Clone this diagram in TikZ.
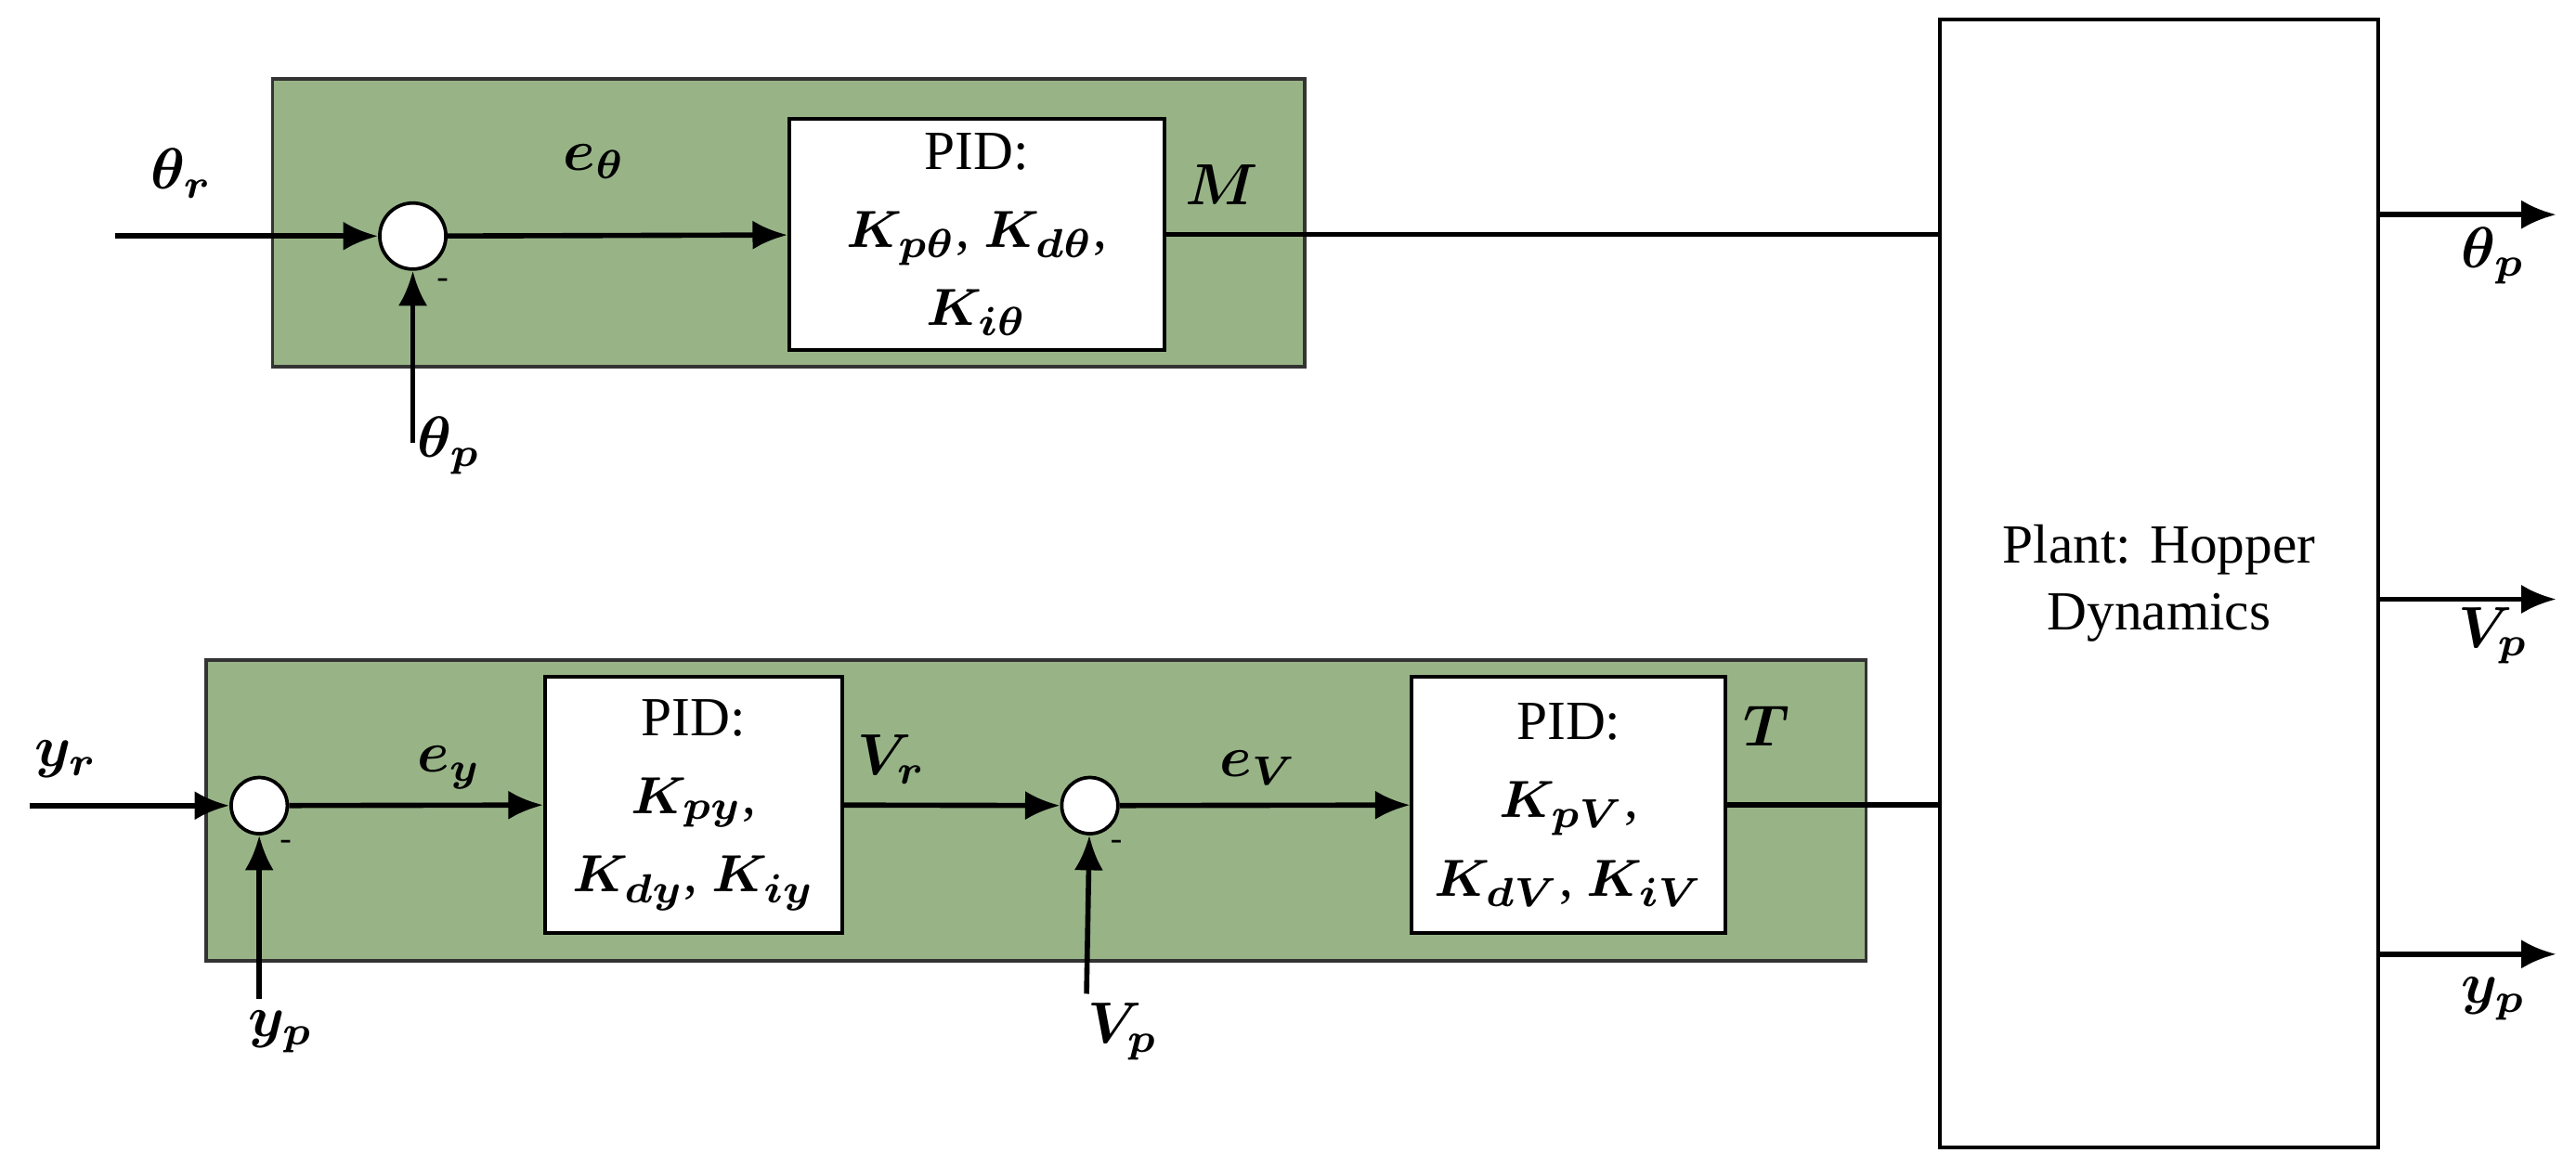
\documentclass[tikz,border=0pt]{standalone}
\usepackage{amsmath,bm}
\usepackage{fontspec}
\setmainfont{Liberation Serif}
\usetikzlibrary{arrows.meta}
\definecolor{grn}{RGB}{152,180,135}
\begin{document}
\begin{tikzpicture}[x=0.01cm,y=-0.01cm,
  every node/.style={font=\fontsize{9.5}{11.5}\selectfont},
  grp/.style={draw=black!80,fill=grn,line width=0.6pt},
  blk/.style={draw,fill=white,line width=0.6pt,align=center,inner sep=0pt},
  sum/.style={draw,fill=white,circle,line width=0.6pt,inner sep=0pt},
  ar/.style={-{Latex[length=6pt,width=5pt]},line width=0.9pt},
  ln/.style={line width=0.9pt},
  lab/.style={font=\fontsize{10}{12}\selectfont},
  mn/.style={font=\fontsize{6}{7}\selectfont}]
\useasboundingbox (0,0) rectangle (1560,706);
% groups
\draw[grp] (165,48) rectangle (790,222);
\draw[grp] (125,400) rectangle (1130,582);
% top loop
\node[sum,minimum size=0.4cm] (s1) at (250,143) {};
\node[blk,minimum width=2.27cm,minimum height=1.4cm] (p1) at (591.5,142) {PID:\\[2pt]$\bm{K_{p\theta}}$, $\bm{K_{d\theta}}$,\\[2pt]$\bm{K_{i\theta}}$\hspace{5.5em}};
\node[blk,minimum width=2.65cm,minimum height=6.83cm] (pl) at (1307.5,353.5) {Plant: Hopper\\Dynamics};
\coordinate (tin) at (70,143);
\coordinate (tfb) at (250,268);
\draw[ar] (tin) -- (s1);
\draw[ar] (tfb) -- (s1);
\draw[ar] (s1) -- (p1);
\draw[ln] (p1.east) -- (pl.west |- p1.east);
\node[lab] at (110,105) {$\bm{\theta_r}$};
\node[lab] at (360,98) {$\bm{e_\theta}$};
\node[lab] at (740,112) {$\bm{M}$};
\node[lab] at (272,270) {$\bm{\theta_p}$};
\node[mn] at (268,172) {-};
% outputs
\coordinate (o1) at (1548,130);
\coordinate (o2) at (1548,363);
\coordinate (o3) at (1548,578);
\draw[ar] (pl.east |- o1) -- (o1);
\draw[ar] (pl.east |- o2) -- (o2);
\draw[ar] (pl.east |- o3) -- (o3);
\node[lab] at (1510,155) {$\bm{\theta_p}$};
\node[lab] at (1510,385) {$\bm{V_p}$};
\node[lab] at (1510,605) {$\bm{y_p}$};
% bottom loop
\node[sum,minimum size=0.34cm] (s2) at (157,488) {};
\node[blk,minimum width=1.8cm,minimum height=1.55cm] (p2) at (420,487.5) {PID:\\[2pt]$\bm{K_{py}}$,\\[2pt]$\bm{K_{dy}}$, $\bm{K_{iy}}$};
\node[sum,minimum size=0.34cm] (s3) at (660,488) {};
\node[blk,minimum width=1.9cm,minimum height=1.55cm] (p3) at (950,487.5) {PID:\\[2pt]$\bm{K_{pV}}$,\\[2pt]$\bm{K_{dV}}$, $\bm{K_{iV}}$};
\coordinate (yin) at (18,488);
\coordinate (yfb) at (157,605);
\coordinate (vfb) at (658,602);
\draw[ar] (yin) -- (s2);
\draw[ar] (yfb) -- (s2);
\draw[ar] (s2) -- (p2);
\draw[ar] (p2) -- (s3);
\draw[ar] (vfb) -- (s3);
\draw[ar] (s3) -- (p3);
\draw[ln] (p3.east) -- (pl.west |- p3.east);
\node[lab] at (40,460) {$\bm{y_r}$};
\node[lab] at (272,465) {$\bm{e_y}$};
\node[lab] at (540,460) {$\bm{V_r}$};
\node[lab] at (762,465) {$\bm{e_V}$};
\node[lab] at (1070,440) {$\bm{T}$};
\node[lab] at (170,625) {$\bm{y_p}$};
\node[lab] at (680,625) {$\bm{V_p}$};
\node[mn] at (173,512) {-};
\node[mn] at (676,512) {-};
\end{tikzpicture}
\end{document}
